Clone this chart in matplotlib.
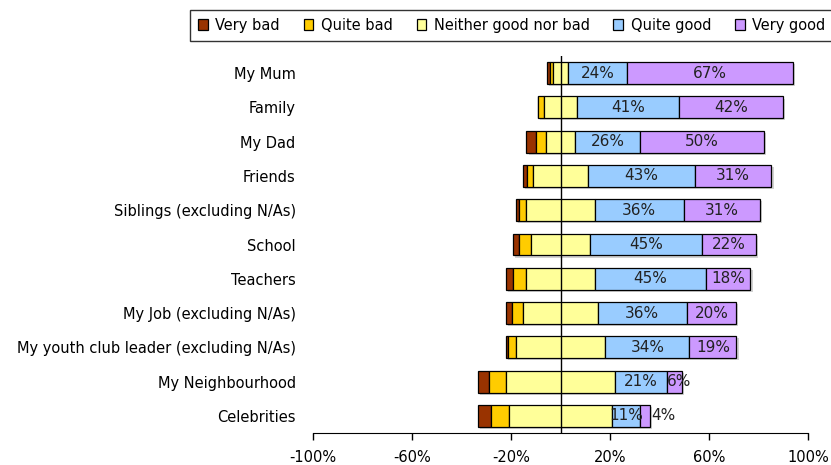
import matplotlib
matplotlib.use("Agg")
import matplotlib.pyplot as plt
import matplotlib.patheffects as pe
import numpy as np

# Survey answers, share of respondents (%)
categories = ['My Mum', 'Family', 'My Dad', 'Friends', 'Siblings (excluding N/As)',
              'School', 'Teachers', 'My Job (excluding N/As)',
              'My youth club leader (excluding N/As)', 'My Neighbourhood', 'Celebrities']
very_bad = [1.1, 0.2, 3.9, 1.5, 1.3, 2.3, 2.8, 2.2, 1.1, 4.4, 5.3]
quite_bad = [1.3, 2.2, 3.8, 2.4, 3.1, 4.7, 5.4, 4.7, 3.0, 6.9, 7.0]
neither = [5.9, 13.7, 12.1, 22.5, 27.5, 24.1, 27.5, 30.0, 36.2, 43.8, 42.0]
quite_good = [24, 41, 26, 43, 36, 45, 45, 36, 34, 21, 11]
very_good = [67, 42, 50, 31, 31, 22, 18, 20, 19, 6, 4]

series_names = ['Very bad', 'Quite bad', 'Neither good nor bad', 'Quite good', 'Very good']
colors = ['#993300', '#FFCC00', '#FFFF99', '#99CCFF', '#CC99FF']
xticks = [-100, -60, -20, 20, 60, 100]

plt.rcParams['font.family'] = ['DejaVu Sans']

fig = plt.figure(figsize=(8.31, 4.65), dpi=100)
ax = fig.add_axes([313 / 831, 1 - 433 / 465, 495 / 831, (433 - 56) / 465])

y = np.arange(len(categories))
vb = np.array(very_bad)
qb = np.array(quite_bad)
nb = np.array(neither)
qg = np.array(quite_good)
vg = np.array(very_good)

# neutral answers straddle zero, negatives to the left, positives to the right
lefts = [-nb / 2 - qb - vb, -nb / 2 - qb, -nb / 2, nb / 2, nb / 2 + qg]
widths = [vb, qb, nb, qg, vg]
shadow = [pe.SimplePatchShadow(offset=(1.5, -1.5), shadow_rgbFace='grey', alpha=0.35), pe.Normal()]

for name, left, width, col in zip(series_names, lefts, widths, colors):
    ax.barh(y, width, left=left, height=0.64, color=col, edgecolor='black',
            linewidth=0.9, label=name, path_effects=shadow, zorder=2)

# data labels on the positive segments (narrow ones spill to the right)
for left, width in [(lefts[3], qg), (lefts[4], vg)]:
    for yi, l, w in zip(y, left, width):
        if w < 5:
            xpos, ha = l + w + 0.8, 'left'
        elif w < 10:
            xpos, ha = l, 'left'
        else:
            xpos, ha = l + w / 2, 'center'
        ax.text(xpos, yi, f'{w:.0f}%', ha=ha, va='center',
                fontsize=11, color='#222222', zorder=4)

ax.axvline(0, color='black', linewidth=1, zorder=3)

ax.set_xlim(-100, 100)
ax.set_ylim(len(categories) - 0.5, -0.5)
ax.set_yticks(y)
ax.set_yticklabels(categories, fontsize=10.5)
ax.set_xticks(xticks)
ax.set_xticklabels([f'{t}%' for t in xticks], fontsize=10.5)
ax.tick_params(axis='y', left=False, pad=9)
ax.tick_params(axis='x', direction='out', length=5, width=1, pad=7)
for s in ['top', 'right', 'left']:
    ax.spines[s].set_visible(False)

leg = fig.legend(loc='upper left', bbox_to_anchor=(190 / 831, 1 - 10 / 465), ncol=5,
                 frameon=True, fancybox=False, edgecolor='black',
                 prop={'family': 'DejaVu Sans', 'stretch': 'condensed', 'size': 11.7},
                 handlelength=0.6, handleheight=0.6, handletextpad=0.45,
                 columnspacing=1.47, borderpad=0.5, borderaxespad=0)
leg.get_frame().set_linewidth(1)
for h in leg.legend_handles:
    h.set_path_effects([])

fig.savefig('out.png', dpi=100)
